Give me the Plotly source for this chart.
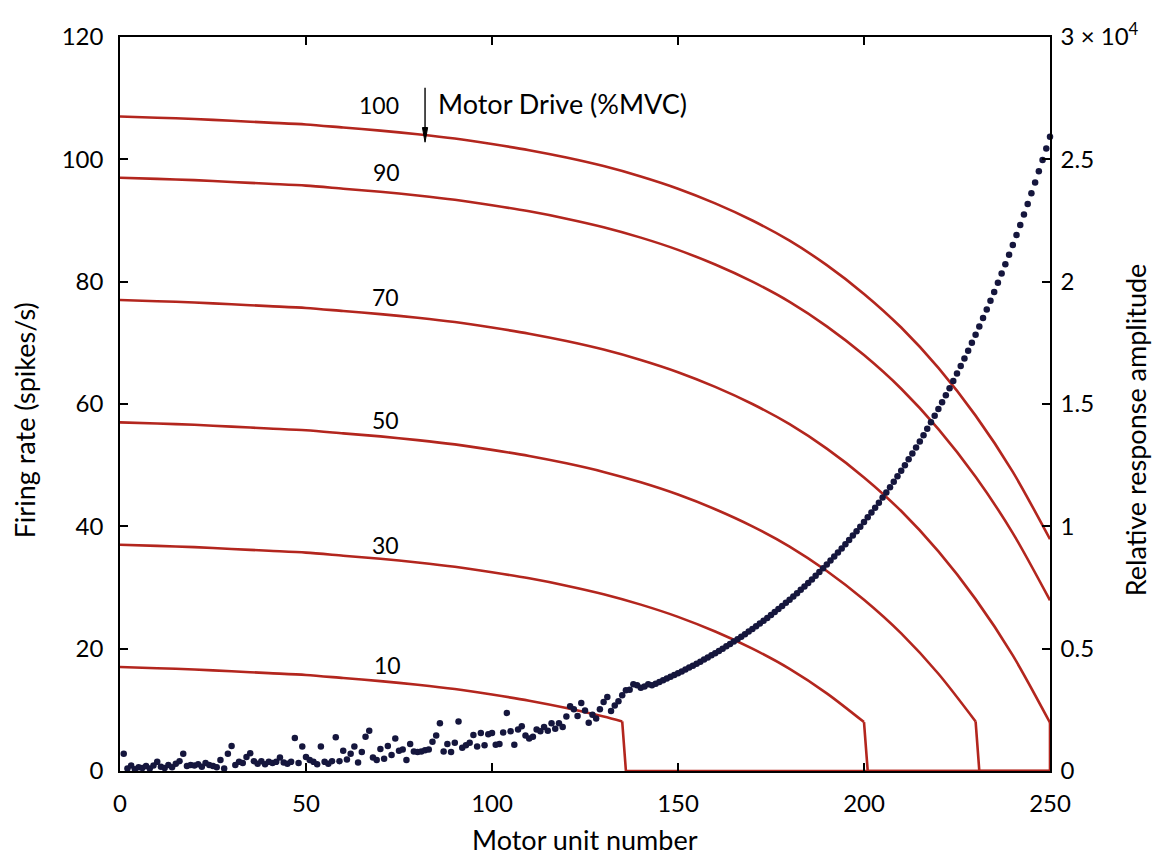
import plotly.graph_objects as go

# ---------------- data ----------------
unit_samples = [0, 10, 20, 30, 40, 50, 60, 70, 80, 90, 100, 110, 120, 130,
                140, 150, 160, 170, 180, 190, 200, 210, 220, 230, 240, 250]

drive_levels = [10, 30, 50, 70, 90, 100]

units_10 = [0, 10, 20, 30, 40, 50, 60, 70, 80, 90, 100, 110, 120, 130, 135]
rate_10 = [17.0, 16.8, 16.6, 16.3, 16.0, 15.7, 15.2, 14.7, 14.1, 13.4, 12.5, 11.5, 10.3, 8.9, 8.1]

units_30 = unit_samples[:21]
rate_30 = [37.0, 36.8, 36.6, 36.3, 36.0, 35.7, 35.2, 34.7, 34.1, 33.4, 32.5, 31.5, 30.3,
           28.9, 27.2, 25.2, 22.8, 20.0, 16.7, 12.7, 8.0]

units_50 = unit_samples[:24]
rate_50 = [57.0, 56.8, 56.6, 56.3, 56.0, 55.7, 55.2, 54.7, 54.1, 53.4, 52.5, 51.5, 50.3,
           48.9, 47.2, 45.2, 42.8, 40.0, 36.7, 32.7, 28.0, 22.5, 15.9, 8.1]

units_70 = unit_samples
rate_70 = [77.0, 76.8, 76.6, 76.3, 76.0, 75.7, 75.2, 74.7, 74.1, 73.4, 72.5, 71.5, 70.3,
           68.9, 67.2, 65.2, 62.8, 60.0, 56.7, 52.7, 48.0, 42.5, 35.9, 28.1, 18.9, 7.9]

units_90 = unit_samples
rate_90 = [97.0, 96.8, 96.6, 96.3, 96.0, 95.7, 95.2, 94.7, 94.1, 93.4, 92.5, 91.5, 90.3,
           88.9, 87.2, 85.2, 82.8, 80.0, 76.7, 72.7, 68.0, 62.5, 55.9, 48.1, 38.9, 27.9]

units_100 = unit_samples
rate_100 = [107.0, 106.8, 106.6, 106.3, 106.0, 105.7, 105.2, 104.7, 104.1, 103.4, 102.5,
            101.5, 100.3, 98.9, 97.2, 95.2, 92.8, 90.0, 86.7, 82.7, 78.0, 72.5, 65.9,
            58.1, 48.9, 37.9]

# first unit that is no longer recruited (rate falls to zero)
derecruit_unit = [136, 201, 231, 250, None, None]

# relative response amplitude of motor units 1..250
response_amplitude = [
    700, 100, 225, 75, 150, 125, 200, 100, 225, 375,
    175, 125, 250, 150, 300, 400, 700, 200, 250, 225,
    275, 175, 325, 250, 200, 150, 450, 100, 700, 1025,
    250, 375, 325, 575, 725, 400, 300, 400, 275, 375,
    325, 375, 550, 350, 300, 375, 1350, 325, 1000, 575,
    450, 375, 275, 1000, 375, 300, 400, 1375, 400, 825,
    475, 700, 1000, 350, 775, 1400, 1650, 550, 450, 900,
    500, 1025, 650, 1325, 825, 875, 450, 1100, 800, 775,
    800, 850, 875, 1200, 1450, 1950, 800, 1100, 775, 1150,
    2025, 950, 1050, 1150, 1475, 1000, 1550, 1050, 1500, 1550,
    1075, 1100, 1575, 2375, 1625, 1075, 1700, 1825, 1450, 1325,
    1400, 1700, 1625, 1800, 1650, 1950, 1725, 1950, 1800, 2225,
    2650, 2525, 2250, 2775, 2475, 1975, 2300, 2150, 2525, 2825,
    3025, 2450, 2675, 2850, 3100, 3300, 3325, 3550, 3500, 3400,
    3450, 3550, 3505, 3571, 3638, 3707, 3777, 3848, 3921, 3995,
    4070, 4147, 4226, 4305, 4387, 4469, 4554, 4640, 4727, 4817,
    4908, 5001, 5095, 5191, 5289, 5389, 5491, 5594, 5700, 5807,
    5917, 6028, 6142, 6258, 6376, 6497, 6619, 6744, 6872, 7001,
    7133, 7268, 7405, 7545, 7687, 7832, 7980, 8131, 8284, 8441,
    8600, 8763, 8928, 9097, 9269, 9443, 9622, 9803, 9988, 10177,
    10369, 10565, 10764, 10968, 11175, 11386, 11600, 11820, 12043, 12269,
    12501, 12737, 12977, 13222, 13472, 13726, 13985, 14249, 14518, 14792,
    15071, 15356, 15646, 15941, 16242, 16549, 16861, 17180, 17504, 17834,
    18171, 18514, 18863, 19220, 19582, 19952, 20329, 20712, 21104, 21501,
    21907, 22321, 22742, 23172, 23609, 24055, 24509, 24971, 25443, 25922,
]
motor_units = list(range(1, len(response_amplitude) + 1))

x_ticks = [0, 50, 100, 150, 200, 250]
left_ticks = [0, 20, 40, 60, 80, 100, 120]
right_tickvals = [0, 5000, 10000, 15000, 20000, 25000, 30000]
right_ticktext = ["0", "0.5", "1", "1.5", "2", "2.5", "3 × 10<sup>4</sup>"]

# ---------------- figure ----------------
RED = "#b3261e"
NAVY = "#15163d"
FONT = "Lato"

fig = go.Figure()

curves = [(units_10, rate_10), (units_30, rate_30), (units_50, rate_50),
          (units_70, rate_70), (units_90, rate_90), (units_100, rate_100)]

for (ux, ry), cut in zip(curves, derecruit_unit):
    fig.add_trace(go.Scatter(x=ux, y=ry, mode="lines",
                             line=dict(color=RED, width=2.6, shape="spline", smoothing=0.8),
                             showlegend=False, hoverinfo="skip"))
    if cut is not None:
        fig.add_trace(go.Scatter(x=[ux[-1], cut, 250], y=[ry[-1], 0, 0], mode="lines",
                                 line=dict(color=RED, width=2.6),
                                 showlegend=False, hoverinfo="skip"))

fig.add_trace(go.Scatter(x=motor_units, y=response_amplitude, mode="markers",
                         marker=dict(color=NAVY, size=6.5), yaxis="y2",
                         cliponaxis=False, showlegend=False))

# curve labels
label_pos = [(72.0, 17.3), (71.5, 37.0), (71.5, 57.4), (71.5, 77.5), (71.7, 98.0), (69.6, 108.9)]
for lvl, (lx, ly) in zip(drive_levels, label_pos):
    fig.add_annotation(x=lx, y=ly, text=str(lvl), showarrow=False,
                       font=dict(family=FONT, size=23, color="black"),
                       xanchor="center", yanchor="middle")

# arrow (shaft + head) pointing at the 100 %MVC curve
fig.add_shape(type="line", x0=82, x1=82, y0=111.7, y1=104.5,
              line=dict(color="black", width=1.4))
fig.add_shape(type="path", path="M 81.3 105.2 L 82.7 105.2 L 82 102.8 Z",
              fillcolor="black", line=dict(color="black", width=1))
fig.add_annotation(x=85.0, y=109.2, text="Motor Drive (%MVC)", showarrow=False,
                   font=dict(family=FONT, size=27, color="black"),
                   xanchor="left", yanchor="middle")

# axis titles
fig.add_annotation(xref="paper", yref="paper", x=0.5, y=-0.094,
                   text="Motor unit number", showarrow=False,
                   font=dict(family=FONT, size=27, color="black"),
                   xanchor="center", yanchor="middle")
fig.add_annotation(xref="paper", yref="paper", x=-0.103, y=0.478,
                   text="Firing rate (spikes/s)", showarrow=False, textangle=-90,
                   font=dict(family=FONT, size=27, color="black"),
                   xanchor="center", yanchor="middle")
fig.add_annotation(xref="paper", yref="paper", x=1.092, y=0.465,
                   text="Relative response amplitude", showarrow=False, textangle=-90,
                   font=dict(family=FONT, size=27, color="black"),
                   xanchor="center", yanchor="middle")

axis_common = dict(showgrid=False, zeroline=False, showline=True, linecolor="black",
                   linewidth=1.6, ticks="inside", ticklen=8, tickwidth=1.6,
                   tickcolor="black", tickfont=dict(family=FONT, size=24, color="black"))

fig.update_layout(
    width=1160, height=865,
    margin=dict(l=120, r=110, t=37, b=94),
    paper_bgcolor="white", plot_bgcolor="white",
    font=dict(family=FONT, color="black"),
    xaxis=dict(range=[0, 250], tickvals=x_ticks, mirror="ticks",
               ticklabelstandoff=10, **axis_common),
    yaxis=dict(range=[0, 120], tickvals=left_ticks, ticklabelstandoff=10,
               **axis_common),
    yaxis2=dict(range=[0, 30000], tickvals=right_tickvals, ticktext=right_ticktext,
                overlaying="y", side="right", ticklabelstandoff=4, **axis_common),
)

fig.write_html("out.html")
